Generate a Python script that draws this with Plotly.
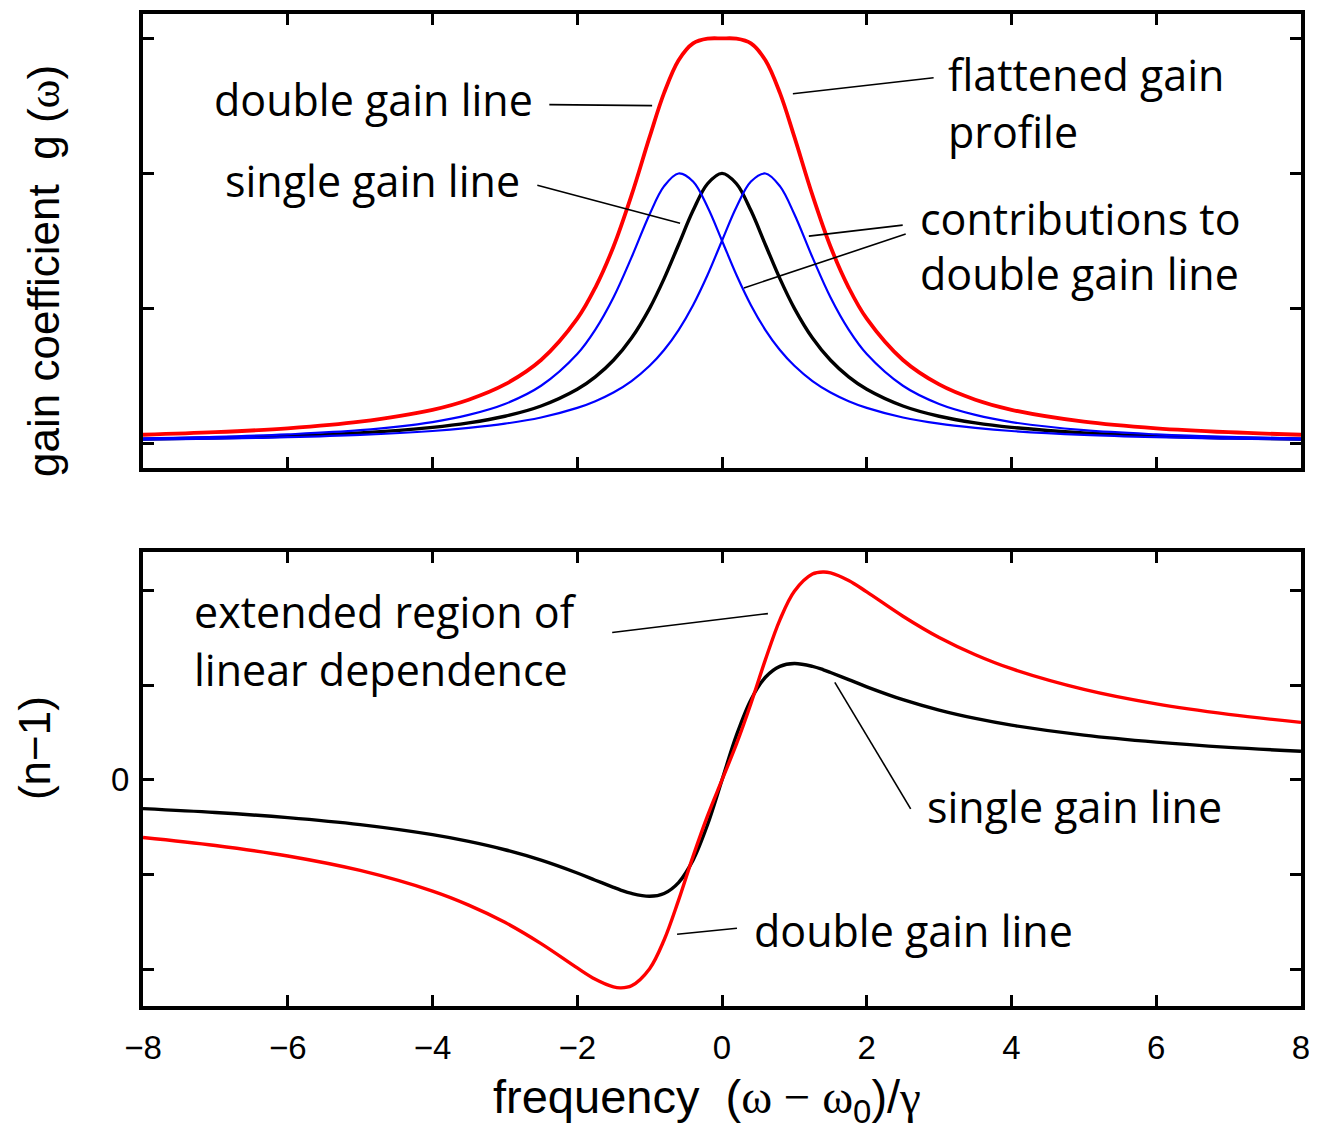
import plotly.graph_objects as go

# ---------------- data ----------------
x_gain = [-8, -7, -6, -5, -4, -3.5, -3, -2.5, -2, -1.75, -1.5, -1.25, -1, -0.8, -0.6, -0.4, -0.2,
          0, 0.2, 0.4, 0.6, 0.8, 1, 1.25, 1.5, 1.75, 2, 2.5, 3, 3.5, 4, 5, 6, 7, 8]
single_gain = [0.031, 0.040, 0.054, 0.077, 0.118, 0.151, 0.200, 0.276, 0.400, 0.492, 0.615, 0.780,
               1.000, 1.220, 1.471, 1.724, 1.923, 2.000, 1.923, 1.724, 1.471, 1.220, 1.000, 0.780,
               0.615, 0.492, 0.400, 0.276, 0.200, 0.151, 0.118, 0.077, 0.054, 0.040, 0.031]
contrib_left = [0.036, 0.047, 0.066, 0.097, 0.157, 0.210, 0.291, 0.426, 0.661, 0.842, 1.080, 1.377,
                1.697, 1.905, 1.999, 1.939, 1.751, 1.501, 1.247, 1.023, 0.839, 0.691, 0.574, 0.461,
                0.376, 0.312, 0.262, 0.191, 0.145, 0.114, 0.091, 0.062, 0.045, 0.034, 0.027]
contrib_right = [0.027, 0.034, 0.045, 0.062, 0.091, 0.114, 0.145, 0.191, 0.262, 0.312, 0.376, 0.461,
                 0.574, 0.691, 0.839, 1.023, 1.247, 1.501, 1.751, 1.939, 1.999, 1.905, 1.697, 1.377,
                 1.080, 0.842, 0.661, 0.426, 0.291, 0.210, 0.157, 0.097, 0.066, 0.047, 0.036]
double_gain = [0.063, 0.082, 0.111, 0.160, 0.248, 0.323, 0.436, 0.617, 0.923, 1.154, 1.456, 1.838,
               2.270, 2.596, 2.838, 2.963, 2.998, 3.000, 2.998, 2.963, 2.838, 2.596, 2.270, 1.838,
               1.456, 1.154, 0.923, 0.617, 0.436, 0.323, 0.248, 0.160, 0.111, 0.082, 0.063]

x_disp = [-8, -7, -6, -5, -4, -3.5, -3, -2.5, -2, -1.75, -1.5, -1.4, -1.25, -1, -0.8, -0.6, -0.4, -0.2,
          0, 0.2, 0.4, 0.6, 0.8, 1, 1.25, 1.4, 1.5, 1.75, 2, 2.5, 3, 3.5, 4, 5, 6, 7, 8]
single_disp = [-0.303, -0.344, -0.399, -0.473, -0.579, -0.650, -0.738, -0.848, -0.984, -1.060, -1.135,
               -1.164, -1.200, -1.230, -1.200, -1.085, -0.848, -0.473, 0.0, 0.473, 0.848, 1.085, 1.200,
               1.230, 1.200, 1.164, 1.135, 1.060, 0.984, 0.848, 0.738, 0.650, 0.579, 0.473, 0.399,
               0.344, 0.303]
double_disp = [-0.608, -0.693, -0.804, -0.957, -1.175, -1.323, -1.505, -1.730, -1.987, -2.107, -2.188,
               -2.198, -2.176, -1.995, -1.692, -1.271, -0.808, -0.380, 0.0, 0.380, 0.808, 1.271, 1.692,
               1.995, 2.176, 2.198, 2.188, 2.107, 1.987, 1.730, 1.505, 1.323, 1.175, 0.957, 0.804,
               0.693, 0.608]

x_ticks = [-8, -6, -4, -2, 0, 2, 4, 6, 8]
gain_ticks = [0, 1, 2, 3]
disp_ticks = [-2, -1, 0, 1, 2]
disp_zero_label = "0"

# ---------------- layout helpers ----------------
# The page body adds an 8 px margin, so the figure is made 8 px smaller and every
# position below is given in page pixels of the reference picture.
OFF = 8
FW, FH = 1317 - OFF, 1138 - OFF
PL, PR = 143, 1301          # page x of the plotting area
PT, PB = 10, 1006           # page y of the plotting area
ML, MR = PL - OFF, FW - (PR - OFF)
MT, MB = PT - OFF, FH - (PB - OFF)
PW, PH = PR - PL, PB - PT


def ax_x(px):
    return (px - 722) / 72.5


def top_y(py):
    return (441 - py) / 135.5


def bot_y(py):
    return (779 - py) / 95.0


def pap_x(px):
    return (px - PL) / PW


def pap_y(py):
    return (PB - py) / PH


RED, BLUE, BLACK = "#ff0000", "#0000ff", "#000000"
ANN_FONT = dict(family="Open Sans", size=43, color="black")
TICK_FONT = dict(family="Liberation Sans", size=33, color="black")
TITLE_FONT = dict(family="Liberation Sans", size=44, color="black")
XTITLE_FONT = dict(family="Liberation Sans", size=47, color="black")

fig = go.Figure()

# top panel
fig.add_trace(go.Scatter(x=x_gain, y=single_gain, mode="lines", line=dict(color=BLACK, width=3.4, shape="spline"),
                         xaxis="x", yaxis="y", showlegend=False))
fig.add_trace(go.Scatter(x=x_gain, y=contrib_left, mode="lines", line=dict(color=BLUE, width=2.2, shape="spline"),
                         xaxis="x", yaxis="y", showlegend=False))
fig.add_trace(go.Scatter(x=x_gain, y=contrib_right, mode="lines", line=dict(color=BLUE, width=2.2, shape="spline"),
                         xaxis="x", yaxis="y", showlegend=False))
fig.add_trace(go.Scatter(x=x_gain, y=double_gain, mode="lines", line=dict(color=RED, width=3.8, shape="spline"),
                         xaxis="x", yaxis="y", showlegend=False))

# bottom panel
fig.add_trace(go.Scatter(x=x_disp, y=single_disp, mode="lines", line=dict(color=BLACK, width=3.4, shape="spline"),
                         xaxis="x2", yaxis="y2", showlegend=False))
fig.add_trace(go.Scatter(x=x_disp, y=double_disp, mode="lines", line=dict(color=RED, width=3.4, shape="spline"),
                         xaxis="x2", yaxis="y2", showlegend=False))

axis_common = dict(showline=True, linecolor="black", linewidth=4, mirror="ticks", ticks="inside",
                   ticklen=11, tickwidth=2.5, tickcolor="black", showgrid=False, zeroline=False,
                   fixedrange=True)

fig.update_layout(
    width=FW, height=FH,
    margin=dict(l=ML, r=MR, t=MT, b=MB, pad=0),
    plot_bgcolor="white", paper_bgcolor="white",
    xaxis=dict(domain=[0, 1], range=[-8, 8], tickvals=x_ticks, showticklabels=False, anchor="y", **axis_common),
    yaxis=dict(domain=[pap_y(466), 1.0], range=[top_y(466), top_y(PT)], tickvals=gain_ticks,
               showticklabels=False, anchor="x", **axis_common),
    xaxis2=dict(domain=[0, 1], range=[-8, 8], tickvals=x_ticks, showticklabels=True, tickfont=TICK_FONT,
                ticklabelstandoff=9, anchor="y2", **axis_common),
    yaxis2=dict(domain=[0.0, pap_y(550)], range=[bot_y(PB), bot_y(550)], tickvals=disp_ticks,
                showticklabels=False, anchor="x2", **axis_common),
)

# the single "0" label of the lower y axis
fig.add_annotation(text=disp_zero_label, x=pap_x(131), y=0, xref="paper", yref="y2", xanchor="right",
                   yanchor="middle", showarrow=False, font=TICK_FONT)

# ---------------- annotation texts ----------------
texts = [
    # (text, page-pixel left x, page-pixel centre y, panel)
    ("double gain line", 211, 96, "top"),
    ("single gain line", 222, 177, "top"),
    ("flattened gain", 946, 71, "top"),
    ("profile", 946, 128, "top"),
    ("contributions to", 918, 215, "top"),
    ("double gain line", 918, 271, "top"),
    ("extended region of", 191, 610, "bot"),
    ("linear dependence", 191, 668, "bot"),
    ("single gain line", 925, 806, "bot"),
    ("double gain line", 752, 930, "bot"),
]
for t, px, py, panel in texts:
    if panel == "top":
        fig.add_annotation(text=t, x=ax_x(px), y=top_y(py), xref="x", yref="y", xanchor="left",
                           yanchor="middle", showarrow=False, font=ANN_FONT)
    else:
        fig.add_annotation(text=t, x=ax_x(px), y=bot_y(py), xref="x2", yref="y2", xanchor="left",
                           yanchor="middle", showarrow=False, font=ANN_FONT)

# leader lines (page-pixel endpoints)
leaders = [
    ((549, 101), (652, 102), "top"),
    ((537, 182), (680, 220), "top"),
    ((793, 90), (934, 74), "top"),
    ((809, 233), (903, 222), "top"),
    ((744, 285), (906, 231), "top"),
    ((612, 631), (768, 612), "bot"),
    ((835, 681), (911, 808), "bot"),
    ((677, 934), (737, 928), "bot"),
]
for (x0, y0), (x1, y1), panel in leaders:
    if panel == "top":
        fig.add_shape(type="line", x0=ax_x(x0), y0=top_y(y0), x1=ax_x(x1), y1=top_y(y1), xref="x", yref="y",
                      line=dict(color="black", width=1.6))
    else:
        fig.add_shape(type="line", x0=ax_x(x0), y0=bot_y(y0), x1=ax_x(x1), y1=bot_y(y1), xref="x2", yref="y2",
                      line=dict(color="black", width=1.6))

# axis titles
SERIF = "<span style='font-family:Liberation Serif'>"
fig.add_annotation(text="gain coefficient\u00a0\u00a0g\u00a0(" + SERIF + "ω</span>)", textangle=-90,
                   x=pap_x(44), y=pap_y(268), xref="paper", yref="paper", xanchor="center", yanchor="middle",
                   showarrow=False, font=TITLE_FONT)
fig.add_annotation(text="(n\u22121)", textangle=-90,
                   x=pap_x(34), y=pap_y(747), xref="paper", yref="paper", xanchor="center", yanchor="middle",
                   showarrow=False, font=TITLE_FONT)
fig.add_annotation(text="frequency\u00a0\u00a0(" + SERIF + "ω\u00a0\u2212\u00a0ω</span><sub>0</sub>)/" + SERIF + "γ</span>",
                   x=pap_x(707), y=pap_y(1100), xref="paper", yref="paper", xanchor="center", yanchor="middle",
                   showarrow=False, font=XTITLE_FONT)

fig.write_html("out.html")
